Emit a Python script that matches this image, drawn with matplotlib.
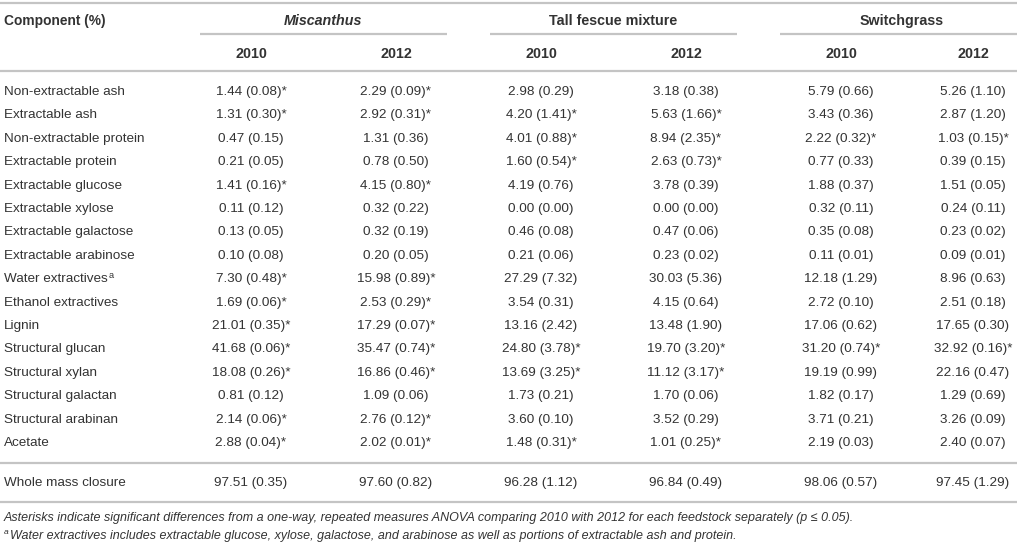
import matplotlib
matplotlib.use("Agg")
import matplotlib.pyplot as plt

# ---------------- data ----------------
components = ["Non-extractable ash", "Extractable ash", "Non-extractable protein",
              "Extractable protein", "Extractable glucose", "Extractable xylose",
              "Extractable galactose", "Extractable arabinose", "Water extractives",
              "Ethanol extractives", "Lignin", "Structural glucan", "Structural xylan",
              "Structural galactan", "Structural arabinan", "Acetate"]
feedstocks = ["Miscanthus", "Tall fescue mixture", "Switchgrass"]
years = ["2010", "2012"]

misc_2010_mean = [1.44, 1.31, 0.47, 0.21, 1.41, 0.11, 0.13, 0.10, 7.30, 1.69, 21.01, 41.68, 18.08, 0.81, 2.14, 2.88]
misc_2010_sd   = [0.08, 0.30, 0.15, 0.05, 0.16, 0.12, 0.05, 0.08, 0.48, 0.06, 0.35, 0.06, 0.26, 0.12, 0.06, 0.04]
misc_2012_mean = [2.29, 2.92, 1.31, 0.78, 4.15, 0.32, 0.32, 0.20, 15.98, 2.53, 17.29, 35.47, 16.86, 1.09, 2.76, 2.02]
misc_2012_sd   = [0.09, 0.31, 0.36, 0.50, 0.80, 0.22, 0.19, 0.05, 0.89, 0.29, 0.07, 0.74, 0.46, 0.06, 0.12, 0.01]
misc_sig = [1, 1, 0, 0, 1, 0, 0, 0, 1, 1, 1, 1, 1, 0, 1, 1]

tf_2010_mean = [2.98, 4.20, 4.01, 1.60, 4.19, 0.00, 0.46, 0.21, 27.29, 3.54, 13.16, 24.80, 13.69, 1.73, 3.60, 1.48]
tf_2010_sd   = [0.29, 1.41, 0.88, 0.54, 0.76, 0.00, 0.08, 0.06, 7.32, 0.31, 2.42, 3.78, 3.25, 0.21, 0.10, 0.31]
tf_2012_mean = [3.18, 5.63, 8.94, 2.63, 3.78, 0.00, 0.47, 0.23, 30.03, 4.15, 13.48, 19.70, 11.12, 1.70, 3.52, 1.01]
tf_2012_sd   = [0.38, 1.66, 2.35, 0.73, 0.39, 0.00, 0.06, 0.02, 5.36, 0.64, 1.90, 3.20, 3.17, 0.06, 0.29, 0.25]
tf_sig = [0, 1, 1, 1, 0, 0, 0, 0, 0, 0, 0, 1, 1, 0, 0, 1]

sg_2010_mean = [5.79, 3.43, 2.22, 0.77, 1.88, 0.32, 0.35, 0.11, 12.18, 2.72, 17.06, 31.20, 19.19, 1.82, 3.71, 2.19]
sg_2010_sd   = [0.66, 0.36, 0.32, 0.33, 0.37, 0.11, 0.08, 0.01, 1.29, 0.10, 0.62, 0.74, 0.99, 0.17, 0.21, 0.03]
sg_2012_mean = [5.26, 2.87, 1.03, 0.39, 1.51, 0.24, 0.23, 0.09, 8.96, 2.51, 17.65, 32.92, 22.16, 1.29, 3.26, 2.40]
sg_2012_sd   = [1.10, 1.20, 0.15, 0.15, 0.05, 0.11, 0.02, 0.01, 0.63, 0.18, 0.30, 0.16, 0.47, 0.69, 0.09, 0.07]
sg_sig = [0, 0, 1, 0, 0, 0, 0, 0, 0, 0, 0, 1, 0, 0, 0, 0]

closure_mean = [97.51, 97.60, 96.28, 96.84, 98.06, 97.45]
closure_sd   = [0.35, 0.82, 1.12, 0.49, 0.57, 1.29]

footnote1 = ("Asterisks indicate significant differences from a one-way, repeated measures ANOVA "
             "comparing 2010 with 2012 for each feedstock separately (p \u2264 0.05).")
footnote2 = ("Water extractives includes extractable glucose, xylose, galactose, and arabinose "
             "as well as portions of extractable ash and protein.")

# ---------------- layout ----------------
W, H = 1017, 544
fig = plt.figure(figsize=(W / 100, H / 100), dpi=100)
ax = fig.add_axes([0, 0, 1, 1])
ax.set_xlim(0, W)
ax.set_ylim(H, 0)
ax.axis("off")

FONT = "Liberation Sans"
TXT = "#333333"
LINE = "#c4c4c4"
FS = 9.7
FSB = 10.3

col_x = [251, 396, 541, 686, 841, 973]
group_x = [323, 613, 902]
group_lines = [(200, 447), (490, 737), (780, 1017)]
row_y0, row_dy = 92, 23.4

def hline(y, x0=0, x1=W):
    ax.plot([x0, x1], [y, y], color=LINE, lw=1.6, solid_capstyle="butt")

hline(3)
hline(71)
hline(463)
hline(502)
for x0, x1 in group_lines:
    hline(34, x0, x1)

ax.text(4, 21, "Component (%)", fontsize=FS + 0.2, fontweight="bold", family=FONT,
        color=TXT, va="center", ha="left")
for i, g in enumerate(feedstocks):
    ax.text(group_x[i], 21, g, fontsize=FSB, fontweight="bold", family=FONT,
            style="italic" if g == "Miscanthus" else "normal",
            color=TXT, va="center", ha="center")
for i in range(6):
    ax.text(col_x[i], 54, years[i % 2], fontsize=FSB, fontweight="bold", family=FONT,
            color=TXT, va="center", ha="center")

fig.canvas.draw()
renderer = fig.canvas.get_renderer()

for r, name in enumerate(components):
    y = row_y0 + r * row_dy
    t = ax.text(4, y, name, fontsize=FS, family=FONT, color=TXT, va="center", ha="left")
    if name == "Water extractives":
        bb = t.get_window_extent(renderer=renderer)
        xe = ax.transData.inverted().transform((bb.x1, 0))[0]
        ax.text(xe + 0.5, y - 4, "a", fontsize=FS * 0.68, family=FONT, color=TXT,
                va="center", ha="left")

columns = [(misc_2010_mean, misc_2010_sd, misc_sig), (misc_2012_mean, misc_2012_sd, misc_sig),
           (tf_2010_mean, tf_2010_sd, tf_sig), (tf_2012_mean, tf_2012_sd, tf_sig),
           (sg_2010_mean, sg_2010_sd, sg_sig), (sg_2012_mean, sg_2012_sd, sg_sig)]
for c, (means, sds, sig) in enumerate(columns):
    for r in range(len(components)):
        y = row_y0 + r * row_dy
        s = f"{means[r]:.2f} ({sds[r]:.2f})" + ("*" if sig[r] else "")
        ax.text(col_x[c], y, s, fontsize=FS, family=FONT, color=TXT, va="center", ha="center")

ax.text(4, 483, "Whole mass closure", fontsize=FS, family=FONT, color=TXT, va="center", ha="left")
for c in range(6):
    ax.text(col_x[c], 483, f"{closure_mean[c]:.2f} ({closure_sd[c]:.2f})", fontsize=FS,
            family=FONT, color=TXT, va="center", ha="center")

FS2 = 9.0
ax.text(4, 518, footnote1, fontsize=FS2, family=FONT, style="italic", color=TXT,
        va="center", ha="left")
ax.text(4, 532, "a", fontsize=FS2 * 0.68, family=FONT, style="italic", color=TXT,
        va="center", ha="left")
ax.text(9.5, 536, footnote2, fontsize=FS2, family=FONT, style="italic", color=TXT,
        va="center", ha="left")

fig.savefig("out.png", dpi=100)
